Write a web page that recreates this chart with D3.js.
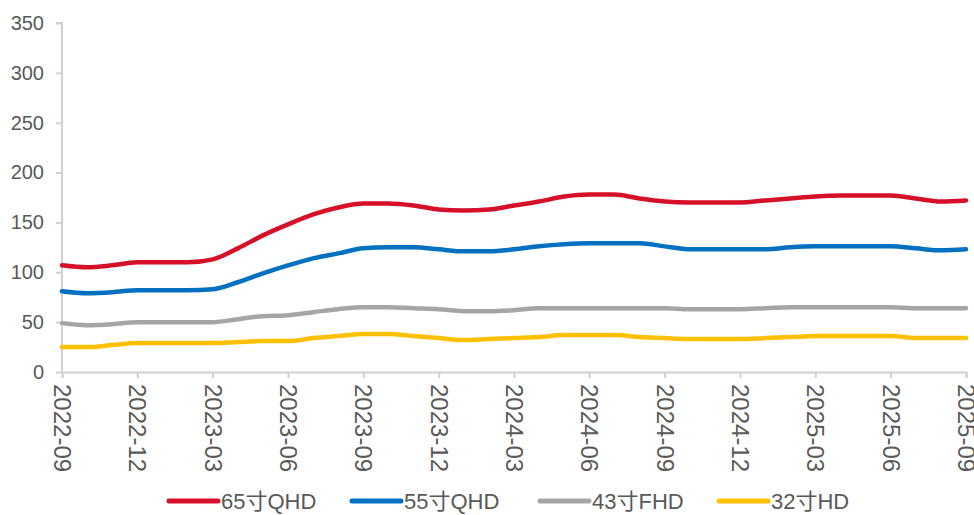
<!DOCTYPE html>
<html lang="zh">
  <head>
    <meta charset="UTF-8" />
    <title>TV panel prices</title>
    <script src="https://d3js.org/d3.v7.min.js"></script>
    <style>
      body {
        margin: 0;
        background: #fff;
        font-family: "Liberation Sans", Arial, "Noto Sans CJK SC", sans-serif;
      }
      .axis path,
      .axis line {
        stroke: #d0d0d0;
        stroke-width: 2px;
      }
      .axis text {
        fill: #595959;
      }
      .line {
        fill: none;
        stroke-width: 4.5px;
        stroke-linejoin: round;
        stroke-linecap: round;
      }
    </style>
  </head>
  <body>
    <script>
      // monthly dates 2022-09 .. 2025-09
      var months = [
        "2022-09", "2022-10", "2022-11", "2022-12", "2023-01", "2023-02",
        "2023-03", "2023-04", "2023-05", "2023-06", "2023-07", "2023-08",
        "2023-09", "2023-10", "2023-11", "2023-12", "2024-01", "2024-02",
        "2024-03", "2024-04", "2024-05", "2024-06", "2024-07", "2024-08",
        "2024-09", "2024-10", "2024-11", "2024-12", "2025-01", "2025-02",
        "2025-03", "2025-04", "2025-05", "2025-06", "2025-07", "2025-08",
        "2025-09"
      ];

      var tv65 = [107, 105, 107, 110, 110, 110, 113, 124, 137, 148, 158, 165,
        169, 169, 167, 163, 162, 163, 167, 171, 176, 178, 178, 174, 171, 170,
        170, 170, 172, 174, 176, 177, 177, 177, 174, 171, 172];
      var tv55 = [81, 79, 80, 82, 82, 82, 83, 90, 99, 107, 114, 119, 124, 125,
        125, 123, 121, 121, 123, 126, 128, 129, 129, 129, 126, 123, 123, 123,
        123, 125, 126, 126, 126, 126, 124, 122, 123];
      var tv43 = [49, 47, 48, 50, 50, 50, 50, 53, 56, 57, 60, 63, 65, 65, 64,
        63, 61, 61, 62, 64, 64, 64, 64, 64, 64, 63, 63, 63, 64, 65, 65, 65, 65,
        65, 64, 64, 64];
      var tv32 = [25, 25, 27, 29, 29, 29, 29, 30, 31, 31, 34, 36, 38, 38, 36,
        34, 32, 33, 34, 35, 37, 37, 37, 35, 34, 33, 33, 33, 34, 35, 36, 36, 36,
        36, 34, 34, 34];

      var seriesNames = ["65寸QHD", "55寸QHD", "43寸FHD", "32寸HD"];
      var seriesColors = ["#d7102a", "#0070c0", "#a5a5a5", "#ffc000"];
      var yTicks = [0, 50, 100, 150, 200, 250, 300, 350];

      var series = [tv65, tv55, tv43, tv32].map(function (vals, i) {
        return { name: seriesNames[i], color: seriesColors[i], values: vals };
      });

      var width = 974,
        height = 515;
      var margin = { top: 23, right: 8, bottom: 143, left: 62 };

      var svg = d3
        .select("body")
        .append("svg")
        .attr("width", width)
        .attr("height", height);

      var x = d3
        .scalePoint()
        .domain(months)
        .range([margin.left, width - margin.right]);

      var y = d3
        .scaleLinear()
        .domain([0, 350])
        .range([height - margin.bottom, margin.top]);

      // y axis
      var yAxis = svg
        .append("g")
        .attr("class", "axis")
        .attr("transform", "translate(" + margin.left + ",0)")
        .call(d3.axisLeft(y).tickValues(yTicks).tickSize(6).tickPadding(12));
      yAxis.select(".domain").attr("d", "M0," + y(0) + "V" + y(350) + "H-6");
      yAxis.selectAll("text").style("font-size", "20px");

      // x axis, ticks every 3 months
      var quarterTicks = months.filter(function (d, i) {
        return i % 3 === 0;
      });
      var xAxis = svg
        .append("g")
        .attr("class", "axis")
        .attr("transform", "translate(0," + y(0) + ")")
        .call(d3.axisBottom(x).tickValues(quarterTicks).tickSize(6));
      xAxis
        .selectAll("text")
        .style("font-size", "24px")
        .attr("transform", "rotate(90)")
        .attr("x", 12)
        .attr("y", 0)
        .attr("dy", "0.35em")
        .style("text-anchor", "start");

      var line = d3
        .line()
        .x(function (d, i) {
          return x(months[i]);
        })
        .y(function (d) {
          return y(d);
        })
        .curve(d3.curveMonotoneX);

      svg
        .selectAll(".line")
        .data(series)
        .enter()
        .append("path")
        .attr("class", "line")
        .attr("stroke", function (d) {
          return d.color;
        })
        .attr("d", function (d) {
          return line(d.values);
        });

      // legend
      var legendX = [169, 352, 540, 719];
      var legend = svg
        .selectAll(".legend")
        .data(series)
        .enter()
        .append("g")
        .attr("class", "legend")
        .attr("transform", function (d, i) {
          return "translate(" + legendX[i] + ",501)";
        });
      legend
        .append("line")
        .attr("x1", 0)
        .attr("x2", 49)
        .attr("stroke", function (d) {
          return d.color;
        })
        .attr("stroke-width", 5)
        .attr("stroke-linecap", "round");
      legend
        .append("text")
        .attr("x", 52)
        .attr("dy", "0.35em")
        .style("fill", "#595959")
        .style("font-size", "22px")
        .text(function (d) {
          return d.name;
        });
    </script>
  </body>
</html>
